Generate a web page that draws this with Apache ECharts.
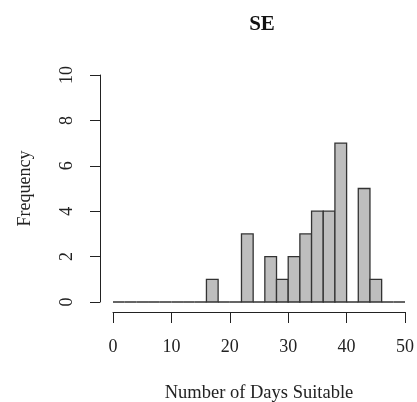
<!DOCTYPE html>
<html>
<head>
<meta charset="utf-8">
<script src="https://cdn.jsdelivr.net/npm/echarts@6/dist/echarts.min.js"></script>
<style>
  html, body { margin: 0; padding: 0; background: #fff; }
  #chart { width: 417px; height: 402px; }
</style>
</head>
<body>
<div id="chart"></div>
<script>
// histogram bins (width 2 days) and counts
var binStarts = [0, 2, 4, 6, 8, 10, 12, 14, 16, 18, 20, 22, 24, 26, 28, 30, 32, 34, 36, 38, 40, 42, 44, 46, 48];
var binEnds   = [2, 4, 6, 8, 10, 12, 14, 16, 18, 20, 22, 24, 26, 28, 30, 32, 34, 36, 38, 40, 42, 44, 46, 48, 50];
var counts    = [0, 0, 0, 0, 0, 0, 0, 0, 1, 0, 0, 3, 0, 2, 1, 2, 3, 4, 4, 7, 0, 5, 1, 0, 0];
var xTicks = [0, 10, 20, 30, 40, 50];
var yTicks = [0, 2, 4, 6, 8, 10];

var serif = '"Liberation Serif", "DejaVu Serif", serif';
var ink = '#222';

var histData = binStarts.map(function (s, i) { return [s, binEnds[i], counts[i]]; });

var chart = echarts.init(document.getElementById('chart'));
chart.setOption({
    animation: false,
    backgroundColor: '#fff',
    title: {
        text: 'SE',
        left: 257,
        textAlign: 'center',
        top: 9,
        textStyle: { fontFamily: serif, fontSize: 21, fontWeight: 'bold', color: '#111' }
    },
    // keep the plot box fixed, v6 would otherwise shrink it to fit the labels
    grid: { left: 113, top: 75, width: 292, height: 227, outerBoundsMode: 'none', containLabel: false },
    xAxis: {
        type: 'value',
        min: xTicks[0],
        max: xTicks[xTicks.length - 1],
        interval: 10,
        offset: 10,
        name: 'Number of Days Suitable',
        nameLocation: 'middle',
        nameGap: 72,
        nameTextStyle: { fontFamily: serif, fontSize: 18.5, color: ink },
        axisLine: { onZero: false, lineStyle: { color: ink, width: 1 } },
        axisTick: { length: 11, lineStyle: { color: ink } },
        axisLabel: { fontFamily: serif, fontSize: 18, color: ink, margin: 26 },
        splitLine: { show: false }
    },
    yAxis: {
        type: 'value',
        min: yTicks[0],
        max: yTicks[yTicks.length - 1],
        interval: 2,
        offset: 13,
        name: 'Frequency',
        nameLocation: 'middle',
        nameRotate: 90,
        nameGap: 66,
        nameTextStyle: { fontFamily: serif, fontSize: 18, color: ink },
        axisLine: { show: true, onZero: false, lineStyle: { color: ink, width: 1 } },
        axisTick: { show: true, length: 10, lineStyle: { color: ink } },
        axisLabel: { fontFamily: serif, fontSize: 18, color: ink, rotate: 90, margin: 24 },
        splitLine: { show: false }
    },
    series: [{
        type: 'custom',
        data: histData,
        encode: { x: [0, 1], y: 2 },
        renderItem: function (params, api) {
            var p0 = api.coord([api.value(0), api.value(2)]);
            var p1 = api.coord([api.value(1), 0]);
            return {
                type: 'rect',
                shape: { x: p0[0], y: p0[1], width: p1[0] - p0[0], height: p1[1] - p0[1] },
                style: { fill: '#bebebe', stroke: '#333', lineWidth: 1.3 }
            };
        }
    }]
});
</script>
</body>
</html>
